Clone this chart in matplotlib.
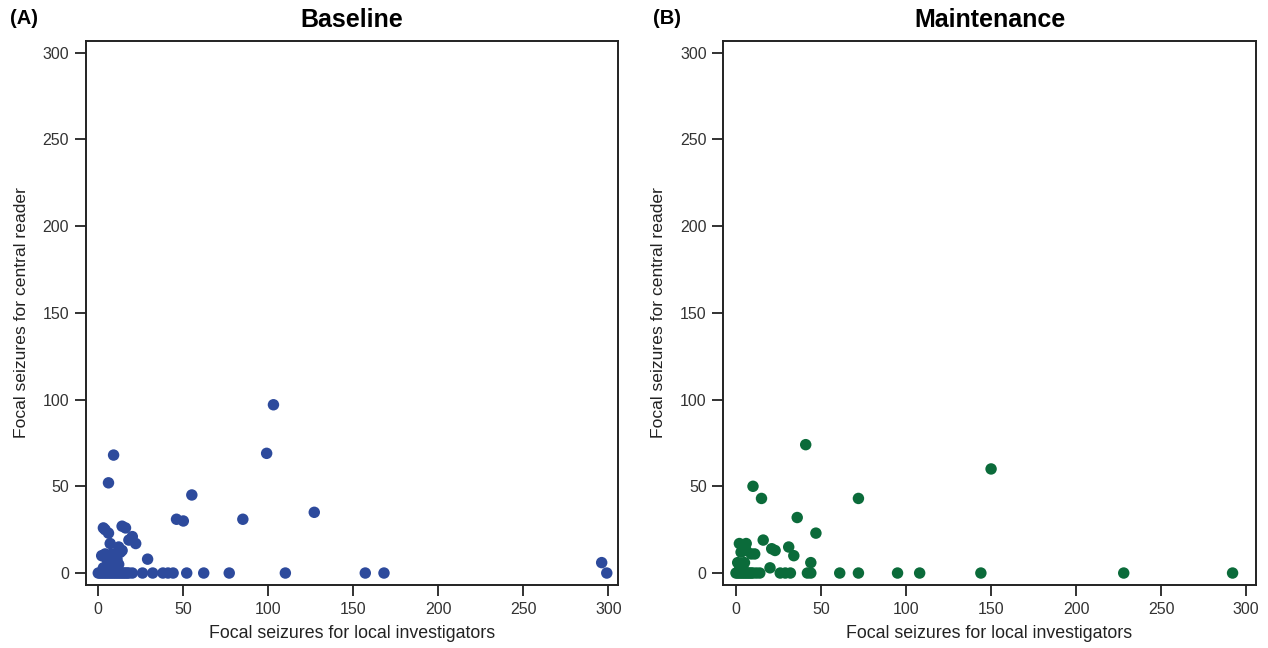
import matplotlib
matplotlib.use("Agg")
import matplotlib.pyplot as plt

plt.rcParams['font.family'] = ['Liberation Sans', 'DejaVu Sans']

# Baseline (A): local investigators (x) vs central reader (y)
base_x = [103, 99, 9, 6, 55, 46, 50, 85, 127, 296, 299, 157, 168, 110, 77, 62, 52,
          44, 41, 38, 32, 26, 29,
          3, 4, 6, 14, 16, 20, 22, 18, 7, 14, 12, 13, 2, 4, 6, 8, 10, 5, 9, 11, 7, 3,
          8, 10, 12,
          0, 1, 2, 3, 4, 5, 6, 7, 8, 9, 10, 11, 12, 13, 14, 15, 16, 17, 18, 20]
base_y = [97, 69, 68, 52, 45, 31, 30, 31, 35, 6, 0, 0, 0, 0, 0, 0, 0,
          0, 0, 0, 0, 0, 8,
          26, 25, 23, 27, 26, 21, 17, 19, 17, 13, 15, 12, 10, 11, 10, 11, 10, 8, 7, 8, 5, 3,
          3, 2, 5,
          0, 0, 0, 0, 0, 0, 0, 0, 0, 0, 0, 0, 0, 0, 0, 0, 0, 0, 0, 0]

# Maintenance (B)
maint_x = [41, 10, 15, 72, 150, 36, 47, 16, 2, 6, 31, 34, 44, 20, 21, 23, 11, 9,
           5, 4, 3, 6, 2, 1,
           72, 95, 108, 144, 228, 292, 61, 42, 44, 26, 29, 32,
           0, 1, 2, 3, 4, 5, 6, 7, 8, 9, 10, 12, 14]
maint_y = [74, 50, 43, 43, 60, 32, 23, 19, 17, 17, 15, 10, 6, 3, 14, 13, 11, 11,
           6, 4, 12, 13, 2, 6,
           0, 0, 0, 0, 0, 0, 0, 0, 0, 0, 0, 0,
           0, 0, 0, 0, 0, 0, 0, 0, 0, 0, 0, 0, 0]

ticks = [0, 50, 100, 150, 200, 250, 300]
xlabel = "Focal seizures for local investigators"
ylabel = "Focal seizures for central reader"

W, H = 1268, 648
fig = plt.figure(figsize=(W/100, H/100), dpi=100)
ax1 = fig.add_axes([85.7/W, 1-585/H, 532.3/W, 544/H])
ax2 = fig.add_axes([723.4/W, 1-585/H, 532.3/W, 544/H])

panels = [
    (ax1, base_x, base_y, "#2d4a9c", "Baseline", "(A)"),
    (ax2, maint_x, maint_y, "#0b6b3a", "Maintenance", "(B)"),
]

for ax, xs, ys, col, title, tag in panels:
    ax.scatter(xs, ys, s=68, color=col, edgecolors='none', zorder=3)
    ax.set_xlim(-7.4, 305.6)
    ax.set_ylim(-6.9, 306.7)
    ax.set_xticks(ticks)
    ax.set_yticks(ticks)
    ax.tick_params(direction='out', length=8, width=1.3, colors='#222222',
                   labelsize=11.5, labelcolor='#333333', pad=4)
    for sp in ax.spines.values():
        sp.set_linewidth(1.4)
        sp.set_color('#222222')
    ax.set_xlabel(xlabel, fontsize=12.8, color='#222222', labelpad=6)
    ax.set_ylabel(ylabel, fontsize=12.6, color='#222222', labelpad=10)
    ax.set_title(title, fontsize=18, fontweight='bold', pad=10)

fig.text(10/W, 1-19/H, "(A)", fontsize=14.5, fontweight='bold', va='center', ha='left')
fig.text(653/W, 1-19/H, "(B)", fontsize=14.5, fontweight='bold', va='center', ha='left')

fig.savefig("out.png", dpi=100)
